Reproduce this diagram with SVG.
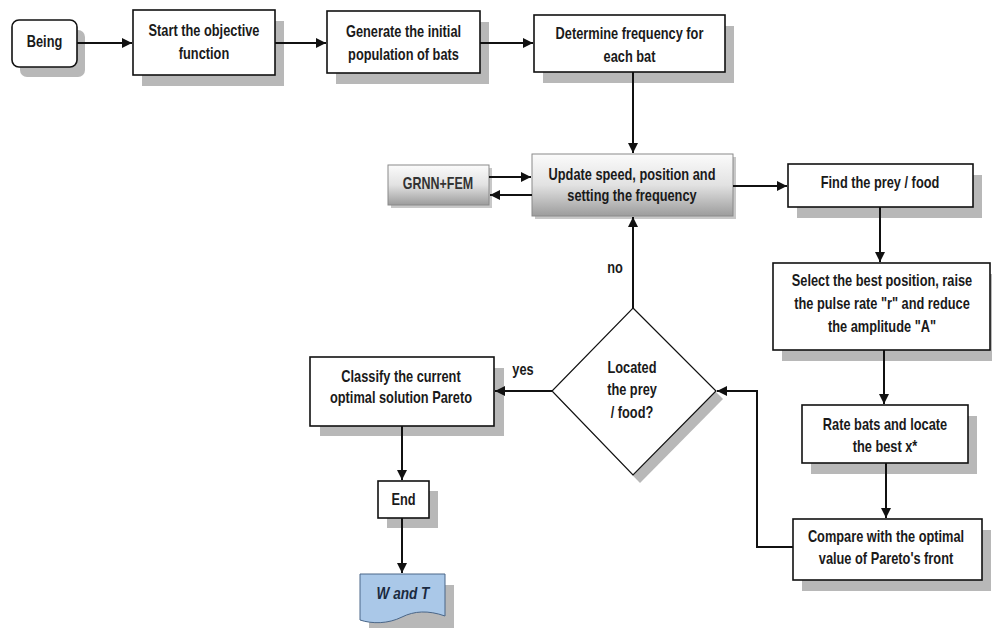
<svg xmlns="http://www.w3.org/2000/svg" width="992" height="629" viewBox="0 0 992 629">
<defs>
<style>
.box{fill:#fff;stroke:#111;stroke-width:1.6}
.sh{fill:#b8b8b8;stroke:none}
.t{font-family:"Liberation Sans",Arial,sans-serif;font-weight:bold;font-size:16px;fill:#1a1a1a;text-anchor:middle}
.c{fill:none;stroke:#111;stroke-width:2}
</style>
<linearGradient id="g" x1="0" y1="0" x2="0" y2="1">
<stop offset="0" stop-color="#fbfbfb"/>
<stop offset="0.5" stop-color="#e2e2e2"/>
<stop offset="1" stop-color="#9c9c9c"/>
</linearGradient>
<marker id="a" viewBox="0 0 10 10" refX="10" refY="5" markerWidth="5" markerHeight="5" orient="auto" markerUnits="strokeWidth">
<path d="M0,0 L10,5 L0,10 z" fill="#111"/>
</marker>
</defs>
<rect width="992" height="629" fill="#fff"/>

<g id="being">
<rect class="sh" x="20" y="30" width="65" height="47" rx="7"/>
<rect class="box" x="12" y="20" width="65" height="47" rx="7"/>
<text class="t" transform="translate(44.5,47) scale(0.8 1)">Being</text>
</g>
<g id="start">
<rect class="sh" x="142" y="21" width="142" height="65"/>
<rect class="box" x="133" y="10" width="142" height="65"/>
<text class="t" transform="translate(204,36) scale(0.8 1)"><tspan x="0" y="0">Start the objective</tspan><tspan x="0" y="23">function</tspan></text>
</g>
<g id="generate">
<rect class="sh" x="336" y="22" width="153" height="62"/>
<rect class="box" x="327" y="11" width="153" height="62"/>
<text class="t" transform="translate(403.5,37) scale(0.8 1)"><tspan x="0" y="0">Generate the initial</tspan><tspan x="0" y="23">population of bats</tspan></text>
</g>
<g id="determine">
<rect class="sh" x="543" y="26" width="191" height="57"/>
<rect class="box" x="534" y="15" width="191" height="57"/>
<text class="t" transform="translate(629.5,39) scale(0.8 1)"><tspan x="0" y="0">Determine frequency for</tspan><tspan x="0" y="23">each bat</tspan></text>
</g>
<g id="update">
<rect x="535" y="157" width="201" height="62" fill="#c8c8c8"/>
<rect x="532" y="154" width="201" height="62" fill="url(#g)" stroke="#8a8a8a" stroke-width="1"/>
<text class="t" transform="translate(632,180) scale(0.8 1)"><tspan x="0" y="0">Update speed, position and</tspan><tspan x="0" y="21">setting the frequency</tspan></text>
</g>
<g id="grnn">
<rect x="391" y="168" width="101" height="40" fill="#c8c8c8"/>
<rect x="388" y="165" width="101" height="40" fill="url(#g)" stroke="#8a8a8a" stroke-width="1"/>
<text class="t" transform="translate(438,189) scale(0.78 1)" style="fill:#333">GRNN+FEM</text>
</g>
<g id="find">
<rect class="sh" x="797" y="175" width="185" height="43"/>
<rect class="box" x="788" y="164" width="185" height="43"/>
<text class="t" transform="translate(880,188) scale(0.8 1)">Find the prey / food</text>
</g>
<g id="select">
<rect class="sh" x="782" y="274" width="210" height="87"/>
<rect class="box" x="773" y="263" width="217" height="87"/>
<text class="t" transform="translate(882,286) scale(0.8 1)"><tspan x="0" y="0">Select the best position, raise</tspan><tspan x="0" y="23">the pulse rate "r" and reduce</tspan><tspan x="0" y="46">the amplitude "A"</tspan></text>
</g>
<g id="rate">
<rect class="sh" x="811" y="416" width="166" height="58"/>
<rect class="box" x="802" y="405" width="166" height="58"/>
<text class="t" transform="translate(885,430) scale(0.8 1)"><tspan x="0" y="0">Rate bats and locate</tspan><tspan x="0" y="22">the best x*</tspan></text>
</g>
<g id="compare">
<rect class="sh" x="802" y="530" width="189" height="61"/>
<rect class="box" x="793" y="519" width="189" height="61"/>
<text class="t" transform="translate(886,542) scale(0.8 1)"><tspan x="0" y="0">Compare with the optimal</tspan><tspan x="0" y="22">value of Pareto's front</tspan></text>
</g>
<g id="decision">
<polygon class="sh" points="640,316 723,399 640,483 559,399"/>
<polygon fill="#fff" stroke="#111" stroke-width="1.2" points="633,308 716,391 633,475 552,391"/>
<text class="t" transform="translate(632,373) scale(0.8 1)"><tspan x="0" y="0">Located</tspan><tspan x="0" y="22">the prey</tspan><tspan x="0" y="45">/ food?</tspan></text>
</g>
<g id="classify">
<rect class="sh" x="320" y="368" width="184" height="68"/>
<rect class="box" x="310" y="357" width="184" height="69"/>
<text class="t" transform="translate(401,382) scale(0.8 1)"><tspan x="0" y="0">Classify the current</tspan><tspan x="0" y="21">optimal solution Pareto</tspan></text>
</g>
<g id="end">
<rect class="sh" x="387" y="491" width="51" height="37"/>
<rect class="box" x="378" y="481" width="51" height="37"/>
<text class="t" transform="translate(403.5,505) scale(0.8 1)">End</text>
</g>
<g id="wandt">
<path class="sh" d="M369,585 H454 V628 H369 Z"/>
<path d="M360,574 H445 V616 C428,610 414,611 402,617 C388,624 372,624 360,620 Z" fill="#aac8e8" stroke="#4a6688" stroke-width="1"/>
<text class="t" transform="translate(403,599) scale(0.85 1)" style="font-style:italic;fill:#1a2a40">W and T</text>
</g>

<g id="connectors">
<path class="c" d="M77,43 H132" marker-end="url(#a)"/>
<path class="c" d="M275,43 H326" marker-end="url(#a)"/>
<path class="c" d="M480,43 H533" marker-end="url(#a)"/>
<path class="c" d="M633,72 V153" marker-end="url(#a)"/>
<path class="c" d="M489,177 H531" marker-end="url(#a)"/>
<path class="c" d="M532,195 H490" marker-end="url(#a)"/>
<path class="c" d="M733,186 H787" marker-end="url(#a)"/>
<path class="c" d="M880,207 V262" marker-end="url(#a)"/>
<path class="c" d="M884,350 V404" marker-end="url(#a)"/>
<path class="c" d="M886,463 V518" marker-end="url(#a)"/>
<path class="c" d="M793,547 H757 V391 H717" marker-end="url(#a)"/>
<path class="c" d="M633,308 V217" marker-end="url(#a)"/>
<path class="c" d="M552,391 H495" marker-end="url(#a)"/>
<path class="c" d="M402,426 V480" marker-end="url(#a)"/>
<path class="c" d="M402,518 V573" marker-end="url(#a)"/>
<text class="t" transform="translate(615,273) scale(0.8 1)">no</text>
<text class="t" transform="translate(523,375) scale(0.8 1)">yes</text>
</g>
</svg>
